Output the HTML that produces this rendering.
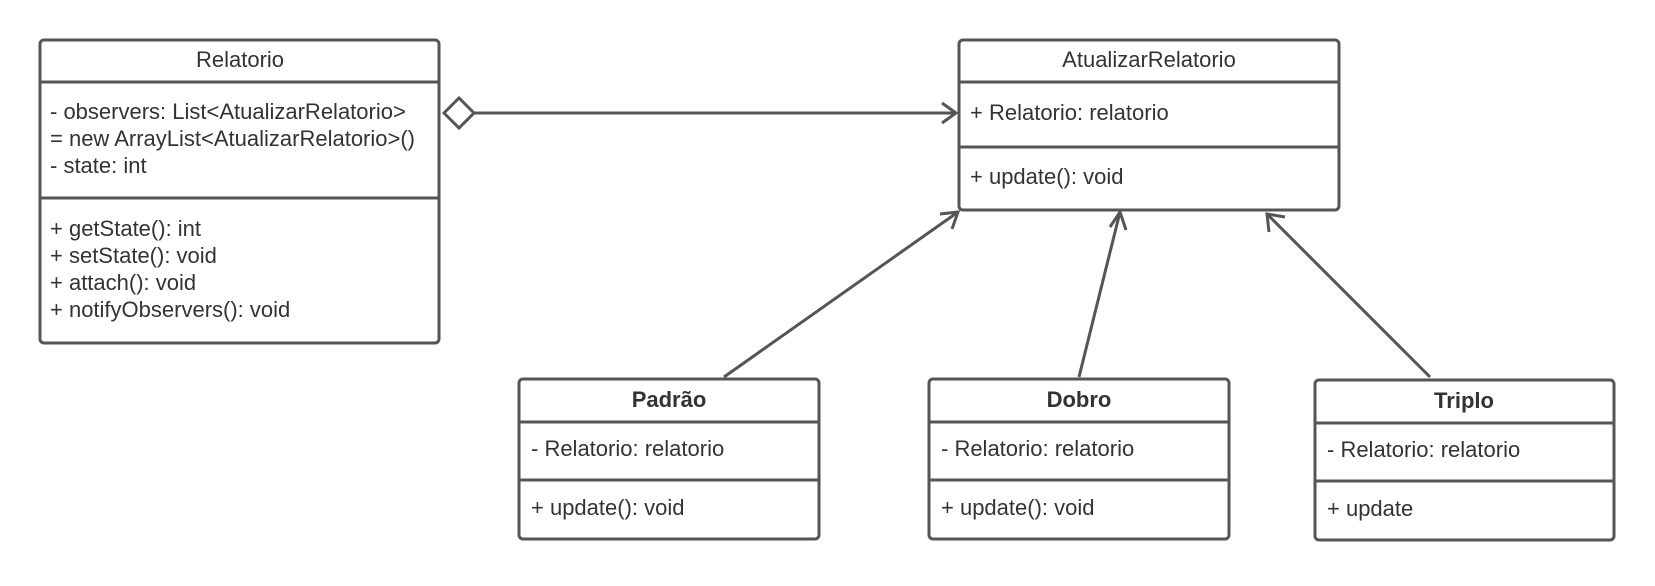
<!DOCTYPE html>
<html><head><meta charset="utf-8"><style>
html,body{margin:0;padding:0;background:#fff;}
svg text{font-family:"Liberation Sans",sans-serif;font-size:22px;fill:#333;}
</style></head><body>
<svg width="1655" height="581" viewBox="0 0 1655 581" xmlns="http://www.w3.org/2000/svg">
<g fill="none" stroke="#555" stroke-width="3">
<rect x="40" y="40" width="399" height="303" rx="4"/>
<line x1="40" y1="82" x2="439" y2="82"/><line x1="40" y1="198" x2="439" y2="198"/>
<rect x="959" y="40" width="380" height="170" rx="4"/>
<line x1="959" y1="82" x2="1339" y2="82"/><line x1="959" y1="147" x2="1339" y2="147"/>
<rect x="519" y="379" width="300" height="160" rx="4"/>
<line x1="519" y1="422" x2="819" y2="422"/><line x1="519" y1="480" x2="819" y2="480"/>
<rect x="929" y="379" width="300" height="160" rx="4"/>
<line x1="929" y1="422" x2="1229" y2="422"/><line x1="929" y1="480" x2="1229" y2="480"/>
<rect x="1315" y="380" width="299" height="160" rx="4"/>
<line x1="1315" y1="423" x2="1614" y2="423"/><line x1="1315" y1="481" x2="1614" y2="481"/>
<polygon points="444,113 459,98 474,113 459,128" fill="#fff"/>
<line x1="474" y1="113" x2="956" y2="113"/>
<polyline points="942,103 956,113 942,123"/>
<line x1="724" y1="377" x2="958" y2="212"/>
<polyline points="940,214 958,212 952,229"/>
<line x1="1079" y1="377" x2="1120" y2="212"/>
<polyline points="1110,227 1120,212 1126,230"/>
<line x1="1430" y1="377" x2="1267" y2="214"/>
<polyline points="1269,232 1267,214 1285,217"/>
</g>
<text x="240" y="67" text-anchor="middle">Relatorio</text>
<text x="50" y="119">- observers: List&lt;AtualizarRelatorio&gt;</text>
<text x="50" y="146">= new ArrayList&lt;AtualizarRelatorio&gt;()</text>
<text x="50" y="173">- state: int</text>
<text x="50" y="236">+ getState(): int</text>
<text x="50" y="263">+ setState(): void</text>
<text x="50" y="290">+ attach(): void</text>
<text x="50" y="317">+ notifyObservers(): void</text>
<text x="1149" y="67" text-anchor="middle">AtualizarRelatorio</text>
<text x="970" y="120">+ Relatorio: relatorio</text>
<text x="970" y="184">+ update(): void</text>
<text x="669" y="407" text-anchor="middle" font-weight="bold">Padrão</text>
<text x="531" y="456">- Relatorio: relatorio</text>
<text x="531" y="515">+ update(): void</text>
<text x="1079" y="407" text-anchor="middle" font-weight="bold">Dobro</text>
<text x="941" y="456">- Relatorio: relatorio</text>
<text x="941" y="515">+ update(): void</text>
<text x="1464" y="408" text-anchor="middle" font-weight="bold">Triplo</text>
<text x="1327" y="457">- Relatorio: relatorio</text>
<text x="1327" y="516">+ update</text>
</svg>
</body></html>
